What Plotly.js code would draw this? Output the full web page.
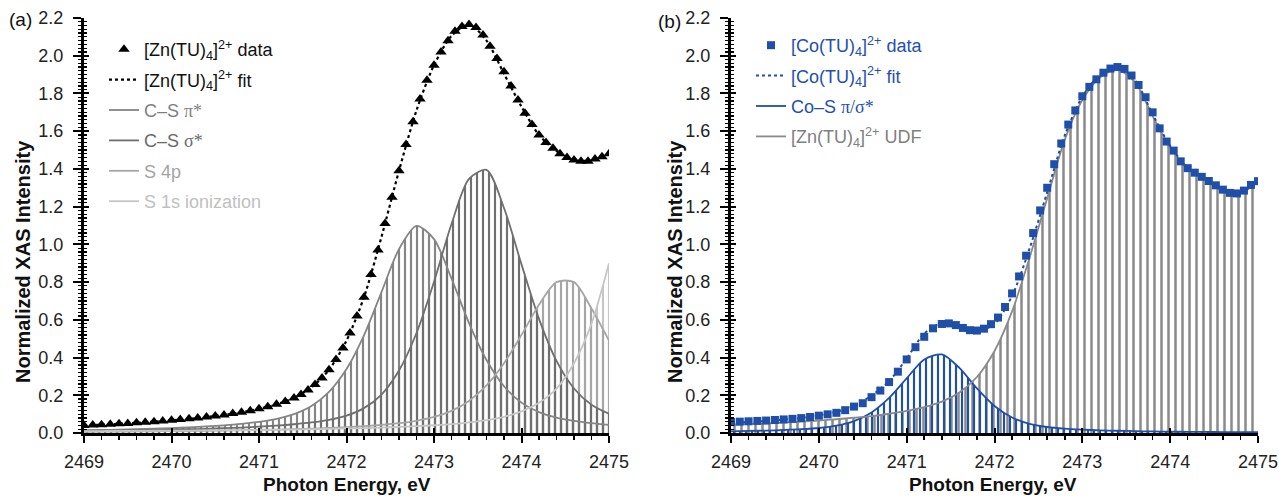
<!DOCTYPE html>
<html>
<head>
<meta charset="utf-8">
<script src="https://cdn.plot.ly/plotly-3.0.1.min.js"></script>
<style>html,body{margin:0;padding:0;background:#fff;}#chart{width:1279px;height:496px;}</style>
</head>
<body>
<div id="chart"></div>
<script>
// ---------- data ----------
const energyGrid = [2469.0,2469.2,2469.4,2469.6,2469.8,2470.0,2470.2,2470.4,2470.6,2470.8,2471.0,2471.2,2471.4,2471.6,2471.8,2472.0,2472.2,2472.4,2472.6,2472.8,2473.0,2473.2,2473.4,2473.6,2473.8,2474.0,2474.2,2474.4,2474.6,2474.8,2475.0];

// panel (a) components
const csPi    = [0.0146,0.0161,0.0180,0.0202,0.0228,0.0260,0.0299,0.0348,0.0409,0.0488,0.0595,0.0752,0.100,0.143,0.218,0.339,0.518,0.747,0.975,1.098,1.028,0.819,0.583,0.387,0.248,0.161,0.111,0.081,0.064,0.052,0.043];
const csSigma = [0.0109,0.0119,0.0130,0.0144,0.0159,0.0177,0.0198,0.0223,0.0254,0.0290,0.0335,0.0392,0.0464,0.0561,0.0701,0.0925,0.132,0.204,0.331,0.530,0.802,1.108,1.347,1.395,1.193,0.894,0.605,0.382,0.236,0.150,0.102];
const s4p     = [0.0067,0.0072,0.0078,0.0084,0.0091,0.0099,0.0109,0.0119,0.0131,0.0146,0.0162,0.0181,0.0205,0.0232,0.0266,0.0308,0.0361,0.0427,0.0518,0.0648,0.0849,0.1175,0.170,0.252,0.370,0.520,0.680,0.800,0.800,0.660,0.490];
const s1sIon  = [0.010,0.010,0.011,0.011,0.012,0.012,0.013,0.014,0.015,0.015,0.016,0.017,0.018,0.020,0.022,0.024,0.026,0.029,0.032,0.036,0.041,0.047,0.056,0.068,0.086,0.115,0.160,0.235,0.370,0.580,0.900];
const znFit   = [0.041,0.044,0.049,0.054,0.060,0.067,0.075,0.085,0.096,0.110,0.128,0.152,0.186,0.242,0.335,0.490,0.720,1.040,1.390,1.710,1.950,2.105,2.165,2.080,1.905,1.730,1.580,1.495,1.447,1.445,1.480];

// panel (b) components
const coS     = [0.0091,0.0108,0.0130,0.0159,0.0201,0.0266,0.0388,0.0627,0.109,0.186,0.290,0.390,0.4165,0.345,0.236,0.143,0.0823,0.0487,0.0318,0.0229,0.0178,0.0143,0.0118,0.0099,0.0084,0.0072,0.0063,0.0055,0.0049,0.0043,0.0039];
const znUDF   = [0.045,0.048,0.051,0.055,0.060,0.066,0.073,0.081,0.090,0.102,0.117,0.137,0.166,0.215,0.297,0.435,0.645,0.930,1.245,1.555,1.765,1.885,1.925,1.860,1.680,1.515,1.400,1.340,1.285,1.270,1.335];
const coFit   = [0.054,0.059,0.064,0.071,0.080,0.093,0.112,0.144,0.199,0.275,0.395,0.527,0.583,0.563,0.540,0.578,0.727,0.979,1.277,1.578,1.783,1.899,1.937,1.870,1.690,1.522,1.406,1.346,1.290,1.274,1.339];

// measured spectra
const dataEnergy = [2469.0,2469.1,2469.2,2469.3,2469.4,2469.5,2469.6,2469.7,2469.8,2469.9,2470.0,2470.1,2470.2,2470.3,2470.4,2470.5,2470.6,2470.7,2470.8,2470.9,2471.0,2471.1,2471.2,2471.3,
  2471.40,2471.48,2471.56,2471.64,2471.72,2471.80,2471.88,2471.96,2472.04,2472.12,2472.20,2472.28,2472.36,2472.44,2472.52,2472.60,2472.68,2472.76,2472.84,2472.92,
  2473.00,2473.08,2473.16,2473.24,2473.32,2473.40,2473.48,2473.56,2473.64,2473.72,2473.80,2473.88,2473.96,2474.04,2474.12,2474.20,2474.28,2474.36,2474.44,2474.52,
  2474.60,2474.68,2474.76,2474.84,2474.92,2475.00];
const znData = [0.040,0.042,0.044,0.046,0.049,0.051,0.054,0.057,0.060,0.063,0.067,0.071,0.075,0.080,0.085,0.090,0.096,0.103,0.110,0.118,0.128,0.139,0.152,0.167,
  0.186,0.204,0.228,0.257,0.292,0.335,0.390,0.450,0.530,0.620,0.720,0.840,0.970,1.110,1.250,1.390,1.530,1.650,1.770,1.870,
  1.950,2.020,2.080,2.130,2.155,2.165,2.150,2.110,2.050,1.985,1.915,1.840,1.765,1.695,1.635,1.580,1.540,1.510,1.480,1.460,
  1.447,1.440,1.440,1.452,1.465,1.480];
const coData = [0.058,0.060,0.062,0.064,0.066,0.069,0.072,0.075,0.079,0.085,0.092,0.099,0.107,0.121,0.140,0.158,0.190,0.225,0.270,0.325,0.390,0.455,0.510,0.555,
  0.578,0.581,0.572,0.557,0.545,0.543,0.553,0.577,0.612,0.668,0.740,0.830,0.940,1.060,1.180,1.300,1.425,1.535,1.635,1.710,
  1.785,1.835,1.875,1.910,1.932,1.940,1.930,1.895,1.845,1.780,1.700,1.615,1.545,1.497,1.440,1.404,1.380,1.358,1.336,1.313,
  1.290,1.273,1.270,1.285,1.315,1.335];

const xTickVals = [2469,2470,2471,2472,2473,2474,2475];
const yTickVals = [0,0.2,0.4,0.6,0.8,1.0,1.2,1.4,1.6,1.8,2.0,2.2];

// ---------- styles ----------
const FONT = '"Liberation Sans", Arial, sans-serif';
const W = 1279, H = 496;
const px = v => v / W, py = v => 1 - v / H;

const cPi = '#858585', cSig = '#6f6f6f', c4p = '#a6a6a6', cIon = '#c6c6c6';
const cBlue = '#1f4fa8', cGray = '#8a8a8a';
const greek = s => "<span style='font-family:Liberation Serif'>" + s + "</span>";

function patternFill(x, y, xa, ya, color, size) {
  return {x, y, xaxis: xa, yaxis: ya, type: 'scatter', mode: 'none', fill: 'tozeroy',
    line: {shape: 'spline', smoothing: 0.8, width: 0},
    fillcolor: 'rgba(0,0,0,0)',
    fillpattern: {shape: '|', size: size, solidity: 0.36, fgcolor: color, bgcolor: 'rgba(0,0,0,0)', fillmode: 'replace'},
    showlegend: false, hoverinfo: 'skip'};
}
function curve(x, y, xa, ya, color, name, legend, rank, width, dash) {
  return {x, y, xaxis: xa, yaxis: ya, type: 'scatter', mode: 'lines', name,
    line: {shape: 'spline', smoothing: 0.8, color, width: width || 1.8, dash: dash || 'solid'},
    legend, legendgroup: 'g' + legend + rank, legendrank: rank};
}
const traces = [
  // panel (a)
  patternFill(energyGrid, s1sIon, 'x', 'y', cIon, 6),
  patternFill(energyGrid, s4p, 'x', 'y', c4p, 6),
  patternFill(energyGrid, csPi, 'x', 'y', cPi, 6),
  patternFill(energyGrid, csSigma, 'x', 'y', cSig, 6),
  curve(energyGrid, csPi, 'x', 'y', cPi, "<span style='color:#7f7f7f'>C–S " + greek('π*') + "</span>", 'legend', 3),
  curve(energyGrid, csSigma, 'x', 'y', cSig, "<span style='color:#6a6a6a'>C–S " + greek('σ*') + "</span>", 'legend', 4),
  curve(energyGrid, s4p, 'x', 'y', c4p, "<span style='color:#a3a3a3'>S 4p</span>", 'legend', 5),
  curve(energyGrid, s1sIon, 'x', 'y', cIon, "<span style='color:#c0c0c0'>S 1s ionization</span>", 'legend', 6),
  curve(energyGrid, znFit, 'x', 'y', '#000', '[Zn(TU)<sub>4</sub>]<sup>2+</sup> fit', 'legend', 2, 2.2, 'dot'),
  {x: dataEnergy, y: znData, xaxis: 'x', yaxis: 'y', type: 'scatter', mode: 'markers',
    name: '[Zn(TU)<sub>4</sub>]<sup>2+</sup> data', marker: {symbol: 'triangle-up', size: 10, color: '#000'},
    legend: 'legend', legendgroup: 'zd', legendrank: 1},
  // panel (b)
  patternFill(energyGrid, znUDF, 'x2', 'y2', cGray, 7),
  patternFill(energyGrid, coS, 'x2', 'y2', cBlue, 6),
  curve(energyGrid, coS, 'x2', 'y2', cBlue, "<span style='color:#1f4fb0'>Co–S " + greek('π/σ*') + "</span>", 'legend2', 3),
  curve(energyGrid, znUDF, 'x2', 'y2', cGray, "<span style='color:#808080'>[Zn(TU)<sub>4</sub>]<sup>2+</sup> UDF</span>", 'legend2', 4),
  curve(energyGrid, coFit, 'x2', 'y2', cBlue, "<span style='color:#1f4fb0'>[Co(TU)<sub>4</sub>]<sup>2+</sup> fit</span>", 'legend2', 2, 2, 'dot'),
  {x: dataEnergy, y: coData, xaxis: 'x2', yaxis: 'y2', type: 'scatter', mode: 'markers',
    name: "<span style='color:#1f4fb0'>[Co(TU)<sub>4</sub>]<sup>2+</sup> data</span>", marker: {symbol: 'square', size: 8, color: cBlue},
    legend: 'legend2', legendgroup: 'cd', legendrank: 1},
  // invisible anchors for the inner tick overlays
  {x: [], y: [], xaxis: 'x3', yaxis: 'y3', type: 'scatter', mode: 'markers', showlegend: false, hoverinfo: 'skip'},
  {x: [], y: [], xaxis: 'x4', yaxis: 'y4', type: 'scatter', mode: 'markers', showlegend: false, hoverinfo: 'skip'}
];

const yDom = [63 / H, 478 / H];
const domA = [84 / W, 609 / W], domB = [731 / W, 1258 / W];
function xAxis(dom, anchor) {
  return {domain: dom, anchor, range: [2469, 2475], tickmode: 'array', tickvals: xTickVals,
    ticks: 'outside', ticklen: 7, tickwidth: 2, tickcolor: '#000', ticklabelstandoff: 3,
    showline: true, linewidth: 3, linecolor: '#000', showgrid: false, zeroline: false,
    tickfont: {size: 18, color: '#222', family: FONT},
    minor: {dtick: 0.2, tick0: 2469, ticks: 'outside', ticklen: 4, tickwidth: 1.5, tickcolor: '#000', showgrid: false},
    fixedrange: true};
}
function yAxis(dom, anchor) {
  return {domain: dom, anchor, range: [0, 2.2], tickmode: 'array', tickvals: yTickVals, tickformat: '.1f',
    ticks: 'outside', ticklen: 8, tickwidth: 2, tickcolor: '#000', ticklabelstandoff: 6,
    showline: true, linewidth: 3, linecolor: '#000', showgrid: false, zeroline: false,
    tickfont: {size: 18, color: '#222', family: FONT},
    minor: {dtick: 0.02, tick0: 0, ticks: 'outside', ticklen: 3, tickwidth: 1.2, tickcolor: '#000', showgrid: false},
    fixedrange: true};
}
function xInner(base, anchor) {
  return {overlaying: base, anchor, range: [2469, 2475], tickmode: 'array', tickvals: xTickVals,
    ticks: 'inside', ticklen: 5, tickwidth: 2, tickcolor: '#000', showticklabels: false,
    showline: false, showgrid: false, zeroline: false, fixedrange: true};
}
function yInner(base, anchor) {
  return {overlaying: base, anchor, range: [0, 2.2], tickmode: 'array', tickvals: yTickVals,
    ticks: 'inside', ticklen: 5, tickwidth: 2, tickcolor: '#000', showticklabels: false,
    minor: {dtick: 0.02, tick0: 0, ticks: 'inside', ticklen: 3, tickwidth: 1.2, tickcolor: '#000', showgrid: false},
    showline: false, showgrid: false, zeroline: false, fixedrange: true};
}

const layout = {
  width: W, height: H, margin: {l: 0, r: 0, t: 0, b: 0},
  paper_bgcolor: '#fff', plot_bgcolor: 'rgba(0,0,0,0)',
  font: {family: FONT, size: 18, color: '#111'},
  xaxis: xAxis(domA, 'y'), yaxis: yAxis(yDom, 'x'),
  xaxis2: xAxis(domB, 'y2'), yaxis2: yAxis(yDom, 'x2'),
  xaxis3: xInner('x', 'y3'), yaxis3: yInner('y', 'x3'),
  xaxis4: xInner('x2', 'y4'), yaxis4: yInner('y2', 'x4'),
  legend: {x: px(104), y: py(31), xanchor: 'left', yanchor: 'top', bgcolor: 'rgba(0,0,0,0)',
    font: {family: FONT, size: 18, color: '#111'}, tracegroupgap: 4, itemwidth: 30, traceorder: 'grouped'},
  legend2: {x: px(751), y: py(27), xanchor: 'left', yanchor: 'top', bgcolor: 'rgba(0,0,0,0)',
    font: {family: FONT, size: 18, color: cBlue}, tracegroupgap: 4, itemwidth: 30, traceorder: 'grouped'},
  annotations: [
    {text: '(a)', xref: 'paper', yref: 'paper', x: px(7), y: py(19), xanchor: 'left', yanchor: 'middle', showarrow: false, font: {family: FONT, size: 19, color: '#111'}},
    {text: '(b)', xref: 'paper', yref: 'paper', x: px(656), y: py(21), xanchor: 'left', yanchor: 'middle', showarrow: false, font: {family: FONT, size: 19, color: '#111'}},
    {text: '<b>Normalized XAS Intensity</b>', xref: 'paper', yref: 'paper', x: px(23), y: py(262), xanchor: 'center', yanchor: 'middle', textangle: -90, showarrow: false, font: {family: FONT, size: 20, color: '#111'}},
    {text: '<b>Normalized XAS Intensity</b>', xref: 'paper', yref: 'paper', x: px(675), y: py(262), xanchor: 'center', yanchor: 'middle', textangle: -90, showarrow: false, font: {family: FONT, size: 20, color: '#111'}},
    {text: '<b>Photon Energy, eV</b>', xref: 'paper', yref: 'paper', x: px(347), y: py(484), xanchor: 'center', yanchor: 'middle', showarrow: false, font: {family: FONT, size: 19, color: '#111'}},
    {text: '<b>Photon Energy, eV</b>', xref: 'paper', yref: 'paper', x: px(993), y: py(484), xanchor: 'center', yanchor: 'middle', showarrow: false, font: {family: FONT, size: 19, color: '#111'}}
  ]
};

Plotly.newPlot('chart', traces, layout, {staticPlot: true, displayModeBar: false});
</script>
</body>
</html>
